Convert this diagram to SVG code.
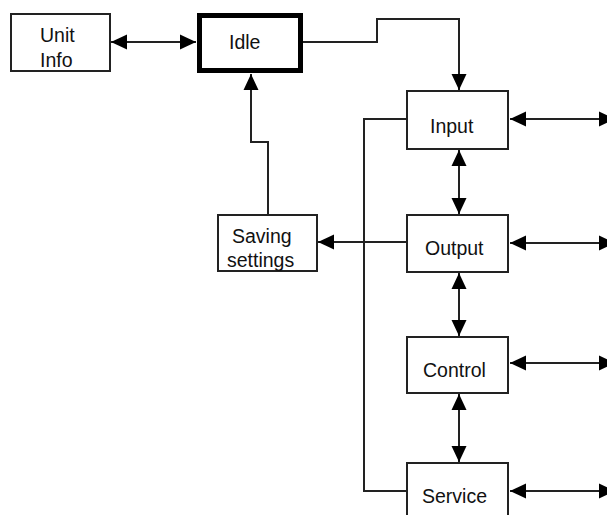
<svg xmlns="http://www.w3.org/2000/svg" width="607" height="515" viewBox="0 0 607 515">
<style>
.box{fill:#fff;stroke:#222;stroke-width:2}
.thick{fill:#fff;stroke:#000;stroke-width:5}
.lbl{font-family:"Liberation Sans",Arial,sans-serif;font-size:19.5px;fill:#111}
.ln{fill:none;stroke:#222;stroke-width:2}
</style>
<defs>
<marker id="ah" markerUnits="userSpaceOnUse" markerWidth="17" markerHeight="16" refX="16" refY="8" orient="auto-start-reverse">
<path d="M0,0.5 L16,8 L0,15.5 z" fill="#000"/>
</marker>
</defs>
<rect width="607" height="515" fill="#fff"/>
<g id="connectors">
<line class="ln" x1="111" y1="42" x2="196" y2="42" marker-start="url(#ah)" marker-end="url(#ah)"/>
<polyline class="ln" points="303,42 377,42 377,19 459,19 459,90" marker-end="url(#ah)"/>
<polyline class="ln" points="268,215 268,142 251,142 251,74" marker-end="url(#ah)"/>
<line class="ln" x1="407" y1="242" x2="318" y2="242" marker-end="url(#ah)"/>
<polyline class="ln" points="406,119 364,119 364,491 406,491"/>
<line class="ln" x1="459" y1="150" x2="459" y2="214" marker-start="url(#ah)" marker-end="url(#ah)"/>
<line class="ln" x1="459" y1="273" x2="459" y2="336" marker-start="url(#ah)" marker-end="url(#ah)"/>
<line class="ln" x1="459" y1="394" x2="459" y2="462" marker-start="url(#ah)" marker-end="url(#ah)"/>
<line class="ln" x1="510" y1="119" x2="615" y2="119" marker-start="url(#ah)" marker-end="url(#ah)"/>
<line class="ln" x1="510" y1="243" x2="615" y2="243" marker-start="url(#ah)" marker-end="url(#ah)"/>
<line class="ln" x1="510" y1="363" x2="615" y2="363" marker-start="url(#ah)" marker-end="url(#ah)"/>
<line class="ln" x1="510" y1="491" x2="615" y2="491" marker-start="url(#ah)" marker-end="url(#ah)"/>
</g>
<g id="unit-info">
<rect class="box" x="11" y="14" width="99" height="57"/>
<text class="lbl" x="40" y="42">Unit</text>
<text class="lbl" x="40" y="67">Info</text>
</g>
<g id="idle">
<rect class="thick" x="199.5" y="15.5" width="101" height="55"/>
<text class="lbl" x="229" y="49">Idle</text>
</g>
<g id="input">
<rect class="box" x="407" y="91" width="101" height="58"/>
<text class="lbl" x="430" y="133">Input</text>
</g>
<g id="saving-settings">
<rect class="box" x="218" y="215" width="99" height="56"/>
<text class="lbl" x="232" y="243">Saving</text>
<text class="lbl" x="227" y="267">settings</text>
</g>
<g id="output">
<rect class="box" x="407" y="215" width="101" height="57"/>
<text class="lbl" x="425" y="255">Output</text>
</g>
<g id="control">
<rect class="box" x="407" y="337" width="101" height="56"/>
<text class="lbl" x="423" y="377">Control</text>
</g>
<g id="service">
<rect class="box" x="407" y="463" width="101" height="60"/>
<text class="lbl" x="422" y="503">Service</text>
</g>
</svg>
